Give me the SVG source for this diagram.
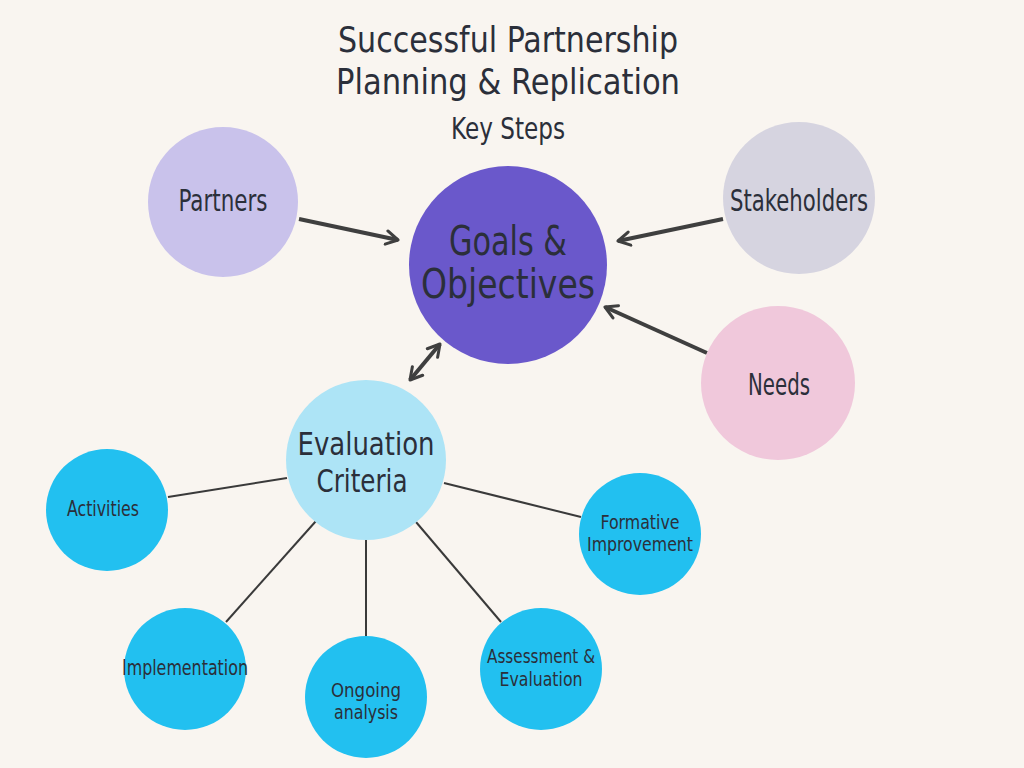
<svg xmlns="http://www.w3.org/2000/svg" width="1024" height="768" viewBox="0 0 1024 768">
<defs>
<style>
text{font-family:"DejaVu Sans Condensed","DejaVu Sans","Liberation Sans",sans-serif;font-stretch:condensed;fill:#2b2f3a;text-anchor:middle}
.arr{stroke:#3f3f3f;stroke-width:4;fill:none}
.ln{stroke:#3a3a3a;stroke-width:2;fill:none}
.small{fill:#22c0f0}
</style>
<marker id="ah" viewBox="0 0 10 10" refX="8" refY="5" markerWidth="4.2" markerHeight="4.2" orient="auto-start-reverse" markerUnits="strokeWidth">
<path d="M1,1 L8,5 L1,9" fill="none" stroke="#3f3f3f" stroke-width="1.8" stroke-linecap="round" stroke-linejoin="round"/>
</marker>
</defs>
<rect width="1024" height="768" fill="#f9f5f0"/>
<g id="title">
<text x="508" y="52" font-size="36" textLength="340" lengthAdjust="spacingAndGlyphs">Successful Partnership</text>
<text x="508" y="94" font-size="36" textLength="344" lengthAdjust="spacingAndGlyphs">Planning &amp; Replication</text>
<text x="508" y="139" font-size="30" textLength="114" lengthAdjust="spacingAndGlyphs">Key Steps</text>
</g>
<g id="connectors">
<line class="arr" x1="299" y1="219" x2="398" y2="240" marker-end="url(#ah)"/>
<line class="arr" x1="723" y1="219" x2="618" y2="241" marker-end="url(#ah)"/>
<line class="arr" x1="707" y1="353" x2="605" y2="307" marker-end="url(#ah)"/>
<line class="arr" x1="410" y1="380" x2="440" y2="344" marker-start="url(#ah)" marker-end="url(#ah)"/>
<line class="ln" x1="168" y1="497" x2="287" y2="478"/>
<line class="ln" x1="226" y1="622" x2="316" y2="521"/>
<line class="ln" x1="366" y1="540" x2="366" y2="636"/>
<line class="ln" x1="416" y1="522" x2="501" y2="622"/>
<line class="ln" x1="444" y1="483" x2="581" y2="517"/>
</g>
<g id="partners">
<circle cx="223" cy="202" r="75" fill="#c9c2eb"/>
<text x="223" y="211" font-size="30" textLength="89" lengthAdjust="spacingAndGlyphs">Partners</text>
</g>
<g id="goals">
<circle cx="508" cy="265" r="99" fill="#6a58cb"/>
<text x="508" y="255" font-size="40" textLength="118" lengthAdjust="spacingAndGlyphs">Goals &amp;</text>
<text x="508" y="298" font-size="40" textLength="174" lengthAdjust="spacingAndGlyphs">Objectives</text>
</g>
<g id="stakeholders">
<circle cx="799" cy="198" r="76" fill="#d6d4e0"/>
<text x="799" y="211" font-size="30" textLength="138" lengthAdjust="spacingAndGlyphs">Stakeholders</text>
</g>
<g id="needs">
<circle cx="778" cy="383" r="77" fill="#f0c8db"/>
<text x="779" y="395" font-size="30" textLength="62" lengthAdjust="spacingAndGlyphs">Needs</text>
</g>
<g id="evaluation">
<circle cx="366" cy="460" r="80" fill="#ade4f6"/>
<text x="366" y="455" font-size="32" textLength="137" lengthAdjust="spacingAndGlyphs">Evaluation</text>
<text x="362" y="492" font-size="32" textLength="91" lengthAdjust="spacingAndGlyphs">Criteria</text>
</g>
<g id="activities">
<circle class="small" cx="107" cy="510" r="61"/>
<text x="103" y="516" font-size="22" textLength="72" lengthAdjust="spacingAndGlyphs">Activities</text>
</g>
<g id="implementation">
<circle class="small" cx="185" cy="669" r="61"/>
<text x="185" y="675" font-size="22" textLength="126" lengthAdjust="spacingAndGlyphs">Implementation</text>
</g>
<g id="ongoing">
<circle class="small" cx="366" cy="697" r="61"/>
<text x="366" y="697" font-size="19" textLength="70" lengthAdjust="spacingAndGlyphs">Ongoing</text>
<text x="366" y="719" font-size="19" textLength="64" lengthAdjust="spacingAndGlyphs">analysis</text>
</g>
<g id="assessment">
<circle class="small" cx="541" cy="669" r="61"/>
<text x="541" y="663" font-size="20" textLength="108" lengthAdjust="spacingAndGlyphs">Assessment &amp;</text>
<text x="541" y="686" font-size="20" textLength="83" lengthAdjust="spacingAndGlyphs">Evaluation</text>
</g>
<g id="formative">
<circle class="small" cx="640" cy="534" r="61"/>
<text x="640" y="529" font-size="20" textLength="79" lengthAdjust="spacingAndGlyphs">Formative</text>
<text x="640" y="551" font-size="20" textLength="106" lengthAdjust="spacingAndGlyphs">Improvement</text>
</g>
</svg>
